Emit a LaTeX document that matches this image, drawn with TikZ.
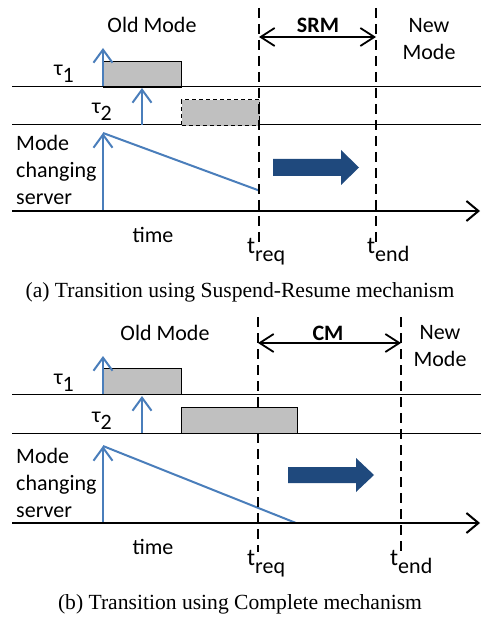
\documentclass[tikz,border=0pt]{standalone}
\usepackage{fontspec}
\setmainfont{Liberation Serif}
\newfontfamily\calfont{Carlito}
\usetikzlibrary{arrows.meta}
\definecolor{bluel}{RGB}{74,126,187}
\definecolor{darkb}{RGB}{31,73,125}
\definecolor{boxg}{RGB}{192,192,192}
\begin{document}
\begin{tikzpicture}[x=1pt,y=-1pt,
  lbl/.style={font=\calfont\fontsize{22}{27}\selectfont, inner sep=0pt, align=center},
  lblb/.style={lbl, font=\calfont\bfseries\fontsize{22}{27}\selectfont},
  tlbl/.style={font=\calfont\fontsize{24}{27}\selectfont, inner sep=0pt, anchor=base west},
  caplbl/.style={font=\fontsize{21.6}{24}\selectfont, inner sep=0pt},
  rowline/.style={line width=1pt},
  axisline/.style={line width=2pt, -{Straight Barb[length=12pt,width=20pt,line width=2pt]}},
  relarrow/.style={bluel, line width=2pt, -{Straight Barb[length=13pt,width=19pt,line width=2pt]}},
  servline/.style={bluel, line width=2pt},
  tline/.style={line width=2.2pt, dash pattern=on 10pt off 6pt},
  spanarrow/.style={line width=1.8pt, {Straight Barb[length=14pt,width=18pt,line width=1.8pt]}-{Straight Barb[length=14pt,width=18pt,line width=1.8pt]}},
  taskbox/.style={draw, fill=boxg, line width=1.3pt},
  taskdash/.style={taskbox, dash pattern=on 4pt off 3pt},
  bigarrow/.style={fill=darkb, draw=none}
]
\useasboundingbox (0,0) rectangle (481,617);

% ================= Panel (a) =================
\coordinate (aL1) at (12,86.5);  \coordinate (aR1) at (481,86.5);
\coordinate (aL2) at (12,125);   \coordinate (aR2) at (481,125);
\coordinate (aAx0) at (12,211);  \coordinate (aAx1) at (480,211);
\draw[rowline] (aL1) -- (aR1);
\draw[rowline] (aL2) -- (aR2);

\node[taskbox, minimum width=78pt, minimum height=25.5pt, anchor=north west] (aT1) at (103,61) {};
\node[taskdash, minimum width=78pt, minimum height=26pt, anchor=north west] (aT2) at (181,99) {};

\coordinate (aA1s) at (103,86.5); \coordinate (aA1e) at (103,48);
\coordinate (aA2s) at (142,125);  \coordinate (aA2e) at (142,88);
\coordinate (aS0) at (103,211);   \coordinate (aS1) at (103,133);
\coordinate (aS2) at (259,190.5);
\draw[relarrow] (aA1s) -- (aA1e);
\draw[relarrow] (aA2s) -- (aA2e);
\draw[relarrow] (aS0) -- (aS1);
\draw[servline] (aS1) -- (aS2);

\coordinate (aQ0) at (259,8); \coordinate (aQ1) at (259,242);
\coordinate (aE0) at (376,8); \coordinate (aE1) at (376,242);
\draw[tline] (aQ0) -- (aQ1);
\draw[tline] (aE0) -- (aE1);
\draw[axisline] (aAx0) -- (aAx1);

\coordinate (aSp0) at (259,37); \coordinate (aSp1) at (376,37);
\draw[spanarrow] (aSp0) -- (aSp1);

\fill[bigarrow] (273,159) -- (341,159) -- (341,150) -- (359,167.5) -- (341,185) -- (341,176) -- (273,176) -- cycle;

\node[lbl] (aOld) at (152,25) {Old Mode};
\node[lblb] (aSRM) at (318,25) {SRM};
\node[lbl] (aNew) at (429,39) {New\\Mode};
\node[lbl, anchor=base west] (aTau1) at (54,76) {τ\raisebox{-7pt}{1}};
\node[lbl, anchor=base west] (aTau2) at (92,114) {τ\raisebox{-7pt}{2}};
\node[lbl, align=left, anchor=west, font=\calfont\fontsize{22}{27}\selectfont] (aServ) at (16,170) {Mode\\changing\\server};
\node[lbl] (aTime) at (153,235) {time};
\node[tlbl] (aTreq) at (247,253) {t\raisebox{-8pt}{\fontsize{22}{24}\selectfont req}};
\node[tlbl] (aTend) at (367,253) {t\raisebox{-8pt}{\fontsize{22}{24}\selectfont end}};
\node[caplbl] (aCap) at (240,292) {(a) Transition using Suspend-Resume mechanism};

% ================= Panel (b) =================
\coordinate (bL1) at (12,394);  \coordinate (bR1) at (481,394);
\coordinate (bL2) at (12,433);  \coordinate (bR2) at (481,433);
\coordinate (bAx0) at (12,523); \coordinate (bAx1) at (480,523);
\draw[rowline] (bL1) -- (bR1);
\draw[rowline] (bL2) -- (bR2);

\node[taskbox, minimum width=78pt, minimum height=26pt, anchor=north west] (bT1) at (103,368) {};
\node[taskbox, minimum width=116pt, minimum height=26pt, anchor=north west] (bT2) at (181,407) {};

\coordinate (bA1s) at (103,394); \coordinate (bA1e) at (103,356);
\coordinate (bA2s) at (142,433); \coordinate (bA2e) at (142,396);
\coordinate (bS0) at (103,523);  \coordinate (bS1) at (103,446);
\coordinate (bS2) at (296,523);
\draw[relarrow] (bA1s) -- (bA1e);
\draw[relarrow] (bA2s) -- (bA2e);
\draw[relarrow] (bS0) -- (bS1);
\draw[servline] (bS1) -- (bS2);

\coordinate (bQ0) at (258,317); \coordinate (bQ1) at (258,407);
\coordinate (bQ2) at (258,433); \coordinate (bQ3) at (258,552);
\coordinate (bE0) at (401,317); \coordinate (bE1) at (401,552);
\draw[tline] (bQ0) -- (bQ1);
\draw[tline] (bQ2) -- (bQ3);
\draw[tline] (bE0) -- (bE1);
\draw[axisline] (bAx0) -- (bAx1);

\coordinate (bSp0) at (258,343); \coordinate (bSp1) at (401,343);
\draw[spanarrow] (bSp0) -- (bSp1);

\fill[bigarrow] (288,467) -- (356,467) -- (356,458) -- (374,475) -- (356,492) -- (356,483) -- (288,483) -- cycle;

\node[lbl] (bOld) at (165,333) {Old Mode};
\node[lblb] (bCM) at (328,333) {CM};
\node[lbl] (bNew) at (440,346) {New\\Mode};
\node[lbl, anchor=base west] (bTau1) at (54,384) {τ\raisebox{-7pt}{1}};
\node[lbl, anchor=base west] (bTau2) at (92,422) {τ\raisebox{-7pt}{2}};
\node[lbl, align=left, anchor=west, font=\calfont\fontsize{22}{27}\selectfont] (bServ) at (16,483) {Mode\\changing\\server};
\node[lbl] (bTime) at (153,547) {time};
\node[tlbl] (bTreq) at (247,565) {t\raisebox{-8pt}{\fontsize{22}{24}\selectfont req}};
\node[tlbl] (bTend) at (390,565) {t\raisebox{-8pt}{\fontsize{22}{24}\selectfont end}};
\node[caplbl] (bCap) at (240,604) {(b) Transition using Complete mechanism};
\end{tikzpicture}
\end{document}
